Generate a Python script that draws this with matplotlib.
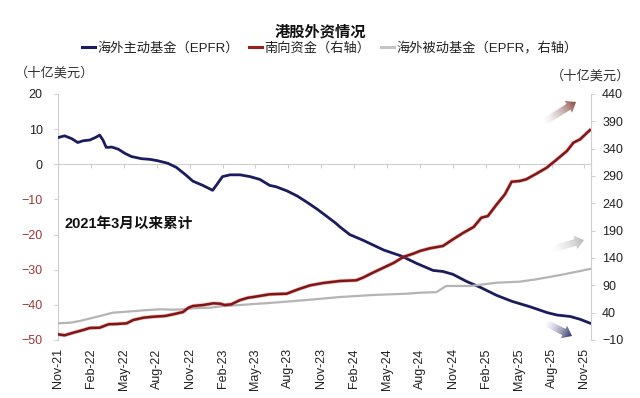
import numpy as np
import matplotlib
matplotlib.use("Agg")
import matplotlib.pyplot as plt
from matplotlib.patches import FancyArrow
from matplotlib.colors import to_rgb
from matplotlib.lines import Line2D

plt.rcParams['font.family'] = ['Liberation Sans', 'Noto Sans CJK SC', 'DejaVu Sans']

# x in months since Nov-2021
active_m = [0.0, 0.6, 1.25, 1.8, 2.3, 2.9, 3.4, 3.8, 4.1, 4.4, 4.9, 5.5, 6.1, 6.7, 7.6, 8.4,
            9.1, 10.0, 10.8, 11.6, 12.3, 13.2, 14.1, 14.5, 15.0, 15.7, 16.6, 17.5, 18.4,
            19.3, 19.9, 20.9, 21.8, 22.7, 23.6, 24.5, 25.3, 25.7, 26.6, 27.8, 29.7, 31.3,
            32.7, 34.2, 35.1, 36.0, 37.3, 38.5, 40.0, 41.4, 43.0, 44.6, 45.5, 46.7, 47.6, 48.5]
active_v = [7.6, 8.1, 7.3, 6.2, 6.7, 6.9, 7.6, 8.3, 6.9, 4.8, 4.9, 4.3, 3.1, 2.2, 1.6, 1.4,
            1.0, 0.3, -0.9, -2.9, -4.8, -6.0, -7.4, -5.7, -3.5, -3.0, -3.0, -3.5, -4.3,
            -6.0, -6.4, -7.6, -9.0, -10.8, -12.7, -14.8, -16.7, -17.8, -20.0, -21.6, -24.4, -26.1,
            -28.2, -30.2, -30.5, -31.3, -33.4, -35.0, -37.3, -39.0, -40.5, -42.2, -42.9, -43.3, -44.1, -45.2]

south_m = [0.0, 0.6, 1.4, 2.3, 2.9, 3.8, 4.6, 5.35, 6.26, 6.86, 7.8, 8.7, 9.75, 10.5, 11.4,
           11.9, 12.3, 13.25, 14.16, 14.8, 15.2, 15.8, 16.6, 17.35, 17.8, 19.3, 20.85, 21.9,
           23.0, 24.2, 25.7, 27.2, 27.8, 28.7, 29.65, 30.6, 31.5, 32.4, 33.0, 33.9, 35.1,
           36.0, 36.95, 37.9, 38.6, 39.2, 40.0, 40.75, 41.36, 42.1, 42.7, 43.6, 44.55, 45.5,
           46.4, 47.0, 47.6, 48.5]
south_v = [0.4, -1.4, 3.4, 8.3, 12.0, 12.5, 18.7, 19.3, 20.5, 26.6, 30.8, 32.6, 33.9, 37.0, 41.2,
           49.1, 52.2, 54.0, 57.1, 56.4, 54.0, 55.3, 63.0, 67.4, 68.6, 73.6, 74.7, 82.7,
           90.0, 94.3, 97.9, 99.2, 104.0, 113.0, 122.0, 131.0, 142.0, 148.0, 152.8, 157.7, 162.0,
           174.0, 186.0, 196.7, 213.7, 216.8, 238.0, 256.5, 279.5, 280.8, 284.0, 294.0, 305.0, 320.5,
           335.7, 351.0, 357.0, 374.0]

passive_m = [0.0, 1.1, 2.0, 3.2, 4.1, 5.0, 6.26, 7.8, 9.3, 10.5, 11.4, 12.3, 13.9, 15.1, 16.3,
             17.5, 19.6, 22.7, 25.7, 28.7, 31.8, 33.0, 34.5, 35.4, 37.6, 40.0, 42.1, 43.6,
             45.8, 47.3, 48.5]
passive_v = [20.5, 21.6, 24.8, 30.8, 35.2, 40.0, 41.8, 44.3, 46.2, 45.4, 46.2, 48.0, 49.1, 52.2, 53.5,
             55.3, 58.2, 63.2, 68.6, 72.3, 74.7, 76.5, 77.5, 88.8, 88.8, 94.8, 96.7, 101.0,
             108.9, 114.9, 120.0]

tick_m = list(range(0, 49, 3))
tick_labels = ['Nov-21', 'Feb-22', 'May-22', 'Aug-22', 'Nov-22', 'Feb-23', 'May-23', 'Aug-23',
               'Nov-23', 'Feb-24', 'May-24', 'Aug-24', 'Nov-24', 'Feb-25', 'May-25', 'Aug-25', 'Nov-25']

names = ['海外主动基金（EPFR）', '南向资金（右轴）', '海外被动基金（EPFR，右轴）']
c_blue = '#1b1c5e'
c_red = '#7d1616'
c_gray = '#b4b4b4'
c_axis = '#cfcfcf'

fig = plt.figure(figsize=(6.4, 3.98), dpi=100)
ax = fig.add_axes([58 / 640, 1 - 340 / 398, 533 / 640, 246 / 398])
ax.plot(active_m, active_v, color=c_blue, lw=2.0, zorder=3)
ax.set_xlim(0, 48.6)
ax.set_ylim(-50, 20)
ax.set_yticks(range(-50, 21, 10))
ax.spines['top'].set_visible(False)
ax.spines['right'].set_visible(False)
ax.spines['left'].set_color(c_axis)
ax.spines['bottom'].set_position(('data', 0))
ax.spines['bottom'].set_color(c_axis)
ax.set_xticks(tick_m)
ax.tick_params(axis='x', length=3, color=c_axis, labelbottom=False)
ax.tick_params(axis='y', length=3, color=c_axis, labelsize=9, pad=8)
for lab in ax.get_yticklabels():
    lab.set_color('#9c3838' if lab.get_text().startswith(('−', '-')) else '#222222')

ax2 = ax.twinx()
ax2.plot(passive_m, passive_v, color=c_gray, lw=1.6)
ax2.plot(south_m, south_v, color='#e06060', lw=2.8, alpha=0.45)
ax2.plot(south_m, south_v, color=c_red, lw=1.8)
ax2.set_ylim(-10, 440)
ax2.set_yticks(range(-10, 441, 50))
for s in ['top', 'bottom', 'left']:
    ax2.spines[s].set_visible(False)
ax2.spines['right'].set_color(c_axis)
ax2.tick_params(axis='y', length=3, color=c_axis, labelsize=9, labelcolor='#222222', pad=5)

sec = ax.secondary_xaxis('bottom')
sec.set_xticks(tick_m, labels=tick_labels, rotation=90)
sec.spines['bottom'].set_visible(False)
sec.tick_params(length=0, labelsize=9, labelcolor='#222222', pad=6)

ax.text(0.013, 0.47, '2021年3月以来累计', transform=ax.transAxes, fontsize=10.5,
        fontweight='bold', color='#111111', va='center', ha='left')

fig.text(0.5, 1 - 32 / 398, '港股外资情况', ha='center', va='center', fontsize=11,
         fontweight='bold', color='#111111')
handles = [Line2D([], [], color=c, lw=2.2) for c in [c_blue, '#9a2020', '#c4c4c4']]
fig.legend(handles, names, loc='center', bbox_to_anchor=(0.515, 1 - 48 / 398), ncol=3,
           frameon=False, fontsize=9.5, handlelength=1.0, handletextpad=0.15,
           columnspacing=0.8, labelcolor='#222222')
fig.text(15 / 640, 1 - 73 / 398, '（十亿美元）', ha='left', va='center', fontsize=9.5, color='#333333')
fig.text(630 / 640, 1 - 76 / 398, '（十亿美元）', ha='right', va='center', fontsize=9.5, color='#333333')

# decorative gradient arrows (pixel coordinates on an overlay)
ov = fig.add_axes([0, 0, 1, 1], zorder=5)
ov.set_xlim(0, 640)
ov.set_ylim(398, 0)
ov.axis('off')


def grad_arrow(x0, y0, x1, y1, c_tail, c_head):
    dx, dy = x1 - x0, y1 - y0
    arr = FancyArrow(x0, y0, dx, dy, width=7, head_width=14, head_length=9,
                     length_includes_head=True, facecolor='none', edgecolor='none')
    ov.add_patch(arr)
    xs = np.linspace(min(x0, x1) - 10, max(x0, x1) + 10, 80)
    ys = np.linspace(min(y0, y1) - 10, max(y0, y1) + 10, 80)
    X, Y = np.meshgrid(xs, ys)
    L2 = dx * dx + dy * dy
    t = np.clip(((X - x0) * dx + (Y - y0) * dy) / L2, 0, 1)
    a, b = np.array(to_rgb(c_tail)), np.array(to_rgb(c_head))
    img = np.zeros((80, 80, 4))
    for k in range(3):
        img[..., k] = a[k] + (b[k] - a[k]) * t
    img[..., 3] = 0.1 + 0.9 * t ** 0.8
    im = ov.imshow(img, extent=(xs[0], xs[-1], ys[0], ys[-1]), origin='lower',
                   interpolation='bilinear', aspect='auto')
    im.set_clip_path(arr)


grad_arrow(546, 121, 576, 102, '#d8d8d8', '#8a4a40')
grad_arrow(553, 249, 584, 240, '#eeeeee', '#b8b8b8')
grad_arrow(546, 323, 572, 336, '#d8d8d8', '#2b2f6b')
ov.set_xlim(0, 640)
ov.set_ylim(398, 0)

fig.savefig('out.png', dpi=100)
